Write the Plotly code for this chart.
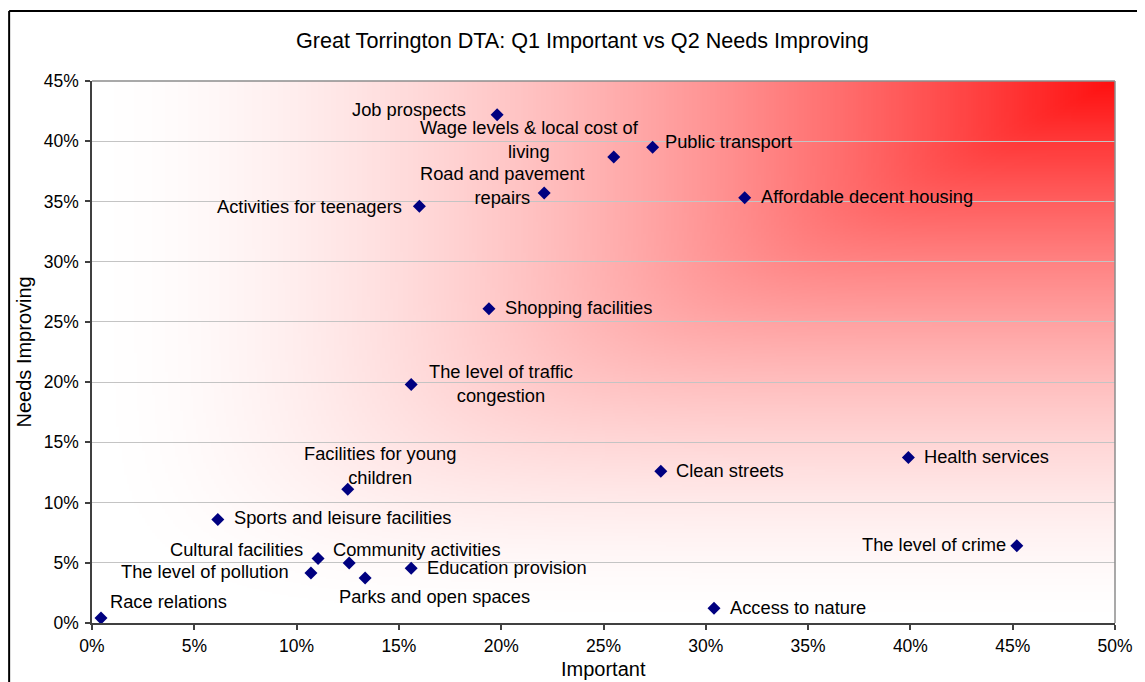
import zlib, struct, base64
import numpy as np
import plotly.graph_objects as go

# ---------------- data ----------------
categories = [
    "Job prospects", "Wage levels & local cost of living", "Public transport",
    "Road and pavement repairs", "Activities for teenagers", "Affordable decent housing",
    "Shopping facilities", "The level of traffic congestion", "Facilities for young children",
    "Clean streets", "Health services", "Sports and leisure facilities",
    "Cultural facilities", "The level of pollution", "Community activities",
    "Parks and open spaces", "Education provision", "Race relations",
    "Access to nature", "The level of crime",
]
important = [0.198, 0.255, 0.274, 0.221, 0.160, 0.319,
             0.194, 0.156, 0.125, 0.278, 0.399, 0.0615,
             0.1105, 0.107, 0.1257, 0.1335, 0.156, 0.0044,
             0.304, 0.452]
needs_improving = [0.422, 0.387, 0.395, 0.357, 0.346, 0.353,
                   0.261, 0.198, 0.111, 0.126, 0.1375, 0.086,
                   0.0535, 0.0415, 0.0498, 0.0374, 0.0455, 0.0041,
                   0.0123, 0.0642]
wrapped = {
    "Wage levels & local cost of living": "Wage levels & local cost of<br>living",
    "Road and pavement repairs": "Road and pavement<br>repairs",
    "The level of traffic congestion": "The level of traffic<br>congestion",
    "Facilities for young children": "Facilities for young<br>children",
}
x_ticks = [0, 0.05, 0.10, 0.15, 0.20, 0.25, 0.30, 0.35, 0.40, 0.45, 0.50]
y_ticks = [0, 0.05, 0.10, 0.15, 0.20, 0.25, 0.30, 0.35, 0.40, 0.45]

title_text = "Great Torrington DTA: Q1 Important vs Q2 Needs Improving"
x_title = "Important"
y_title = "Needs Improving"

# label placement (anchor, xshift px, yshift px) -- styling only
label_pos = [
    ("right", -29, 5), ("center", -84, 17), ("left", 10, 6),
    ("center", -42, 8), ("right", -15, 0), ("left", 14, 1),
    ("left", 14, 1), ("center", 90, 1), ("center", 32, 24),
    ("left", 13, 1), ("left", 14, 1), ("left", 14, 2),
    ("right", -13, 9), ("right", -20, 2), ("left", -18, 14),
    ("left", -28, -19), ("left", 14, 1), ("left", 7, 17),
    ("left", 14, 1), ("right", -9, 1),
]

FONT = "Liberation Sans, Arial, sans-serif"
LABEL_SIZE = 18.3

# ---------------- gradient background (corner gradient, L-shaped bands) ----------------
W, H = 400, 360
u = np.linspace(0, 1, W)[None, :]
v = np.linspace(1, 0, H)[:, None]
p = 8.0
t = 1 - ((1 - u) ** p + (1 - v) ** p) ** (1 / p)
t = 0.94 * np.clip(t, 0, 1) ** 1.6
rgb = np.zeros((H, W, 3), dtype=np.uint8)
rgb[..., 0] = 255
gb = np.round(255 * (1 - t)).astype(np.uint8)
rgb[..., 1] = gb
rgb[..., 2] = gb


def png_uri(img):
    h, w, _ = img.shape
    raw = b"".join(b"\x00" + img[i].tobytes() for i in range(h))

    def chunk(tag, data):
        c = struct.pack(">I", len(data)) + tag + data
        return c + struct.pack(">I", zlib.crc32(tag + data) & 0xFFFFFFFF)

    png = (b"\x89PNG\r\n\x1a\n"
           + chunk(b"IHDR", struct.pack(">IIBBBBB", w, h, 8, 2, 0, 0, 0))
           + chunk(b"IDAT", zlib.compress(raw, 9))
           + chunk(b"IEND", b""))
    return "data:image/png;base64," + base64.b64encode(png).decode()


fig = go.Figure()
fig.add_trace(go.Scatter(
    x=important, y=needs_improving, mode="markers",
    marker=dict(symbol="diamond", size=10, color="#000080"),
    text=categories, hoverinfo="text", showlegend=False,
))

annotations = []
for name, xv, yv, (anc, dx, dy) in zip(categories, important, needs_improving, label_pos):
    annotations.append(dict(
        x=xv, y=yv, xref="x", yref="y", text=wrapped.get(name, name),
        showarrow=False, xanchor=anc, yanchor="middle", xshift=dx, yshift=dy,
        font=dict(family=FONT, size=LABEL_SIZE, color="#000000"), align="center",
    ))

annotations += [
    dict(text=title_text, x=0.479, y=1.074, xref="paper", yref="paper",
         showarrow=False, xanchor="center", yanchor="middle",
         font=dict(family=FONT, size=21.6, color="#000000")),
    dict(text=x_title, x=0.5, y=-0.085, xref="paper", yref="paper",
         showarrow=False, xanchor="center", yanchor="middle",
         font=dict(family=FONT, size=20, color="#000000")),
    dict(text=y_title, x=-0.066, y=0.5, xref="paper", yref="paper",
         showarrow=False, xanchor="center", yanchor="middle", textangle=-90,
         font=dict(family=FONT, size=20, color="#000000")),
]

shapes = [
    # plot-area border (top and right, grey)
    dict(type="line", xref="paper", yref="paper", x0=0, x1=1, y0=1, y1=1,
         line=dict(color="#8c8c8c", width=1.5), layer="above"),
    dict(type="line", xref="paper", yref="paper", x0=1, x1=1, y0=0, y1=1,
         line=dict(color="#8c8c8c", width=1.5), layer="above"),
    # chart-area border (left and top, black)
    dict(type="line", xref="paper", yref="paper", x0=-0.081, x1=1.2, y0=1.129, y1=1.129,
         line=dict(color="#000000", width=2), layer="above"),
    dict(type="line", xref="paper", yref="paper", x0=-0.081, x1=-0.081, y0=-0.3, y1=1.129,
         line=dict(color="#000000", width=2), layer="above"),
]

fig.update_layout(
    width=1137, height=674,
    margin=dict(l=84, r=28, t=73, b=59),
    paper_bgcolor="#ffffff", plot_bgcolor="#ffffff",
    font=dict(family=FONT, size=17, color="#000000"),
    annotations=annotations, shapes=shapes,
    images=[dict(source=png_uri(rgb), xref="x", yref="y", x=0, y=0.45,
                 sizex=0.5, sizey=0.45, sizing="stretch", xanchor="left",
                 yanchor="top", layer="below", opacity=1)],
    hovermode="closest",
)
fig.update_xaxes(
    range=[0, 0.5], tickvals=x_ticks, tickformat=".0%", showgrid=False,
    zeroline=False, showline=True, linecolor="#404040", linewidth=1.5,
    ticks="outside", ticklen=5, tickcolor="#404040", tickwidth=1.5,
    ticklabelstandoff=1, tickfont=dict(family=FONT, size=17.5, color="#000000"),
)
fig.update_yaxes(
    range=[0, 0.45], tickvals=y_ticks, tickformat=".0%", showgrid=True,
    gridcolor="#c4c4c4", gridwidth=1, zeroline=False, showline=True,
    linecolor="#404040", linewidth=1.5, ticks="outside", ticklen=5,
    tickcolor="#404040", tickwidth=1.5, ticklabelstandoff=3,
    tickfont=dict(family=FONT, size=17.5, color="#000000"),
)

fig.write_html("out.html")
